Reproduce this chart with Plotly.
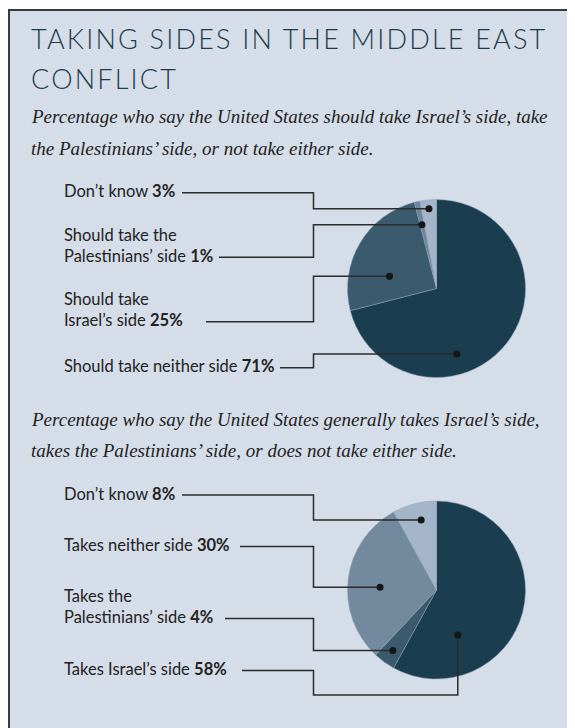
import math
import plotly.graph_objects as go

W, H = 575, 728
OFF = 8  # the page body margin; all positions below are page pixels

# ---- data ----
should_labels = ["Should take neither side", "Should take Israel’s side",
                 "Should take the Palestinians’ side", "Don’t know"]
should_values = [71, 25, 1, 3]

takes_labels = ["Takes Israel’s side", "Takes the Palestinians’ side",
                "Takes neither side", "Don’t know"]
takes_values = [58, 4, 30, 8]

# label text as printed (line breaks) for each slice
should_text = ["Should take neither side", "Should take<br>Israel’s side",
               "Should take the<br>Palestinians’ side", "Don’t know"]
takes_text = ["Takes Israel’s side", "Takes the<br>Palestinians’ side",
              "Takes neither side", "Don’t know"]

# ---- style / layout ----
BG = "#D5DDE8"
DARK = "#1B3D50"
MID = "#3B5A6E"
GREY = "#72899E"
LIGHT = "#A4B4C9"
should_colors = [DARK, MID, "#6F8499", LIGHT]
takes_colors = [DARK, MID, GREY, LIGHT]

TITLE_FONT = "Lato"
LABEL_FONT = "Lato"
SERIF = "Liberation Serif"
LABEL_SIZE = 16.5

pies = [
    dict(values=should_values, labels=should_labels, text=should_text, colors=should_colors,
         cx=436.5, cy=288.5, r=89,
         # where the dot sits inside each slice: fraction along slice, fraction of radius
         dot_t=[0.637, 0.322, 0.44, 0.5], dot_rf=[0.77, 0.545, 0.735, 0.9],
         label_y=[367.7, 321.7, 257.3, 192.7],
         line_x0=[280, 206, 219, 182],
         via_y=[None, None, None, None]),
    dict(values=takes_values, labels=takes_labels, text=takes_text, colors=takes_colors,
         cx=436.5, cy=590, r=89,
         dot_t=[0.741, 0.49, 0.46, 0.57], dot_rf=[0.56, 0.837, 0.635, 0.805],
         label_y=[670.5, 618.5, 546.5, 495],
         line_x0=[242, 225, 240, 182],
         via_y=[695, None, None, None]),
]
ELBOW_X = 313.5
LINE_COLOR = "#2b2b2b"

fig = go.Figure()

shapes = [dict(type="rect", xref="x", yref="y", x0=9, y0=10, x1=W + 20, y1=H + 20,
               fillcolor=BG, line=dict(color="#3a3a3a", width=2), layer="below")]
annotations = []


def polar(p, angle, rf):
    a = math.radians(angle)
    return p["cx"] + rf * p["r"] * math.sin(a), p["cy"] - rf * p["r"] * math.cos(a)


for p in pies:
    cx, cy, r = p["cx"] - OFF, p["cy"] - OFF, p["r"]
    fig.add_trace(go.Pie(
        values=p["values"], labels=p["labels"], sort=False, direction="clockwise",
        rotation=0, textinfo="none", hoverinfo="label+percent",
        marker=dict(colors=p["colors"], line=dict(color="#8fa2b6", width=0.5)),
        domain=dict(x=[(cx - r) / W, (cx + r) / W], y=[1 - (cy + r) / H, 1 - (cy - r) / H]),
        showlegend=False,
    ))
    total = sum(p["values"])
    start = 0.0
    for i, v in enumerate(p["values"]):
        span = 360.0 * v / total
        ang = start + p["dot_t"][i] * span
        start += span
        dx, dy = polar(p, ang, p["dot_rf"][i])
        ly = p["label_y"][i]
        x0 = p["line_x0"][i]
        if p["via_y"][i] is None:
            path = f"M {x0},{ly} L {ELBOW_X},{ly} L {ELBOW_X},{dy} L {dx},{dy}"
        else:
            vy = p["via_y"][i]
            path = f"M {x0},{ly} L {ELBOW_X},{ly} L {ELBOW_X},{vy} L {dx},{vy} L {dx},{dy}"
        shapes.append(dict(type="path", xref="x", yref="y", path=path,
                           line=dict(color=LINE_COLOR, width=1.5), layer="above"))
        shapes.append(dict(type="circle", xref="x", yref="y", x0=dx - 3.5, x1=dx + 3.5,
                           y0=dy - 3.5, y1=dy + 3.5, fillcolor="#161616",
                           line=dict(width=0), layer="above"))
        annotations.append(dict(
            x=62, y=ly, xref="x", yref="y", xanchor="left", yanchor="bottom",
            yshift=-LABEL_SIZE * 0.65, showarrow=False, align="left",
            text=f"{p['text'][i]} <b>{v}%</b>",
            font=dict(family=LABEL_FONT, size=LABEL_SIZE, color="#222222"),
        ))


def title_line(text, bottom):
    return dict(x=29, y=bottom, xref="x", yref="y", xanchor="left", yanchor="bottom",
                showarrow=False,
                text=f'<span style="letter-spacing:2.2px">{text}</span>',
                font=dict(family=TITLE_FONT, size=27, color="#1C3B4D", weight=300))


def sub_line(text, bottom):
    return dict(x=29, y=bottom, xref="x", yref="y", xanchor="left", yanchor="bottom",
                showarrow=False, text=f"<i>{text}</i>",
                font=dict(family=SERIF, size=19, color="#222222"))


annotations += [
    title_line("TAKING SIDES IN THE MIDDLE EAST", 57),
    title_line("CONFLICT", 97),
    sub_line("Percentage who say the United States should take Israel’s side, take", 129.5),
    sub_line("the Palestinians’ side, or not take either side.", 160.5),
    sub_line("Percentage who say the United States generally takes Israel’s side,", 431.5),
    sub_line("takes the Palestinians’ side, or does not take either side.", 462.5),
]

fig.update_layout(
    width=W, height=H, margin=dict(l=0, r=0, t=0, b=0),
    paper_bgcolor="white", plot_bgcolor="rgba(0,0,0,0)",
    xaxis=dict(range=[OFF, W + OFF], visible=False, fixedrange=True, domain=[0, 1]),
    yaxis=dict(range=[H + OFF, OFF], visible=False, fixedrange=True, domain=[0, 1]),
    shapes=shapes, annotations=annotations, showlegend=False,
)

fig.write_html("out.html")
